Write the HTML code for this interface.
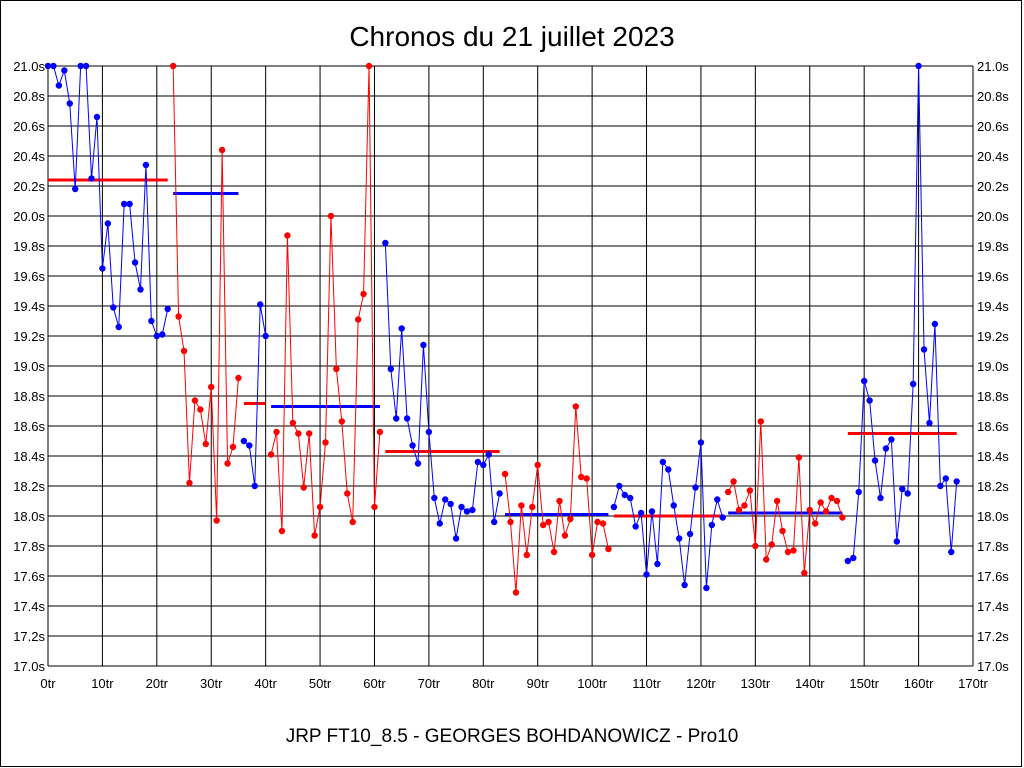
<!DOCTYPE html>
<html><head><meta charset="utf-8"><style>
body{margin:0;background:#fff;}
svg{display:block;font-family:"Liberation Sans",sans-serif;}
</style></head><body>
<svg id="chart" width="1024" height="768" viewBox="0 0 1024 768">
<rect x="0" y="0" width="1024" height="768" fill="#fff"/>
<rect x="0.5" y="0.5" width="1021" height="766" fill="none" stroke="#000" stroke-width="1"/>
<text x="512" y="46" text-anchor="middle" font-size="28">Chronos du 21 juillet 2023</text>
<text x="512" y="742" text-anchor="middle" font-size="19">JRP FT10_8.5 - GEORGES BOHDANOWICZ - Pro10</text>
<g id="grid"></g><g id="avg"></g><g id="series"></g>
</svg>
<script>
const times=[21.0,21.0,20.87,20.97,20.75,20.18,21.0,21.0,20.25,20.66,19.65,19.95,19.39,19.26,20.08,20.08,19.69,19.51,20.34,19.3,19.2,19.21,19.38,
21.0,19.33,19.1,18.22,18.77,18.71,18.48,18.86,17.97,20.44,18.35,18.46,18.92,
18.5,18.47,18.2,19.41,19.2,
18.41,18.56,17.9,19.87,18.62,18.55,18.19,18.55,17.87,18.06,18.49,20.0,18.98,18.63,18.15,17.96,19.31,19.48,21.0,18.06,18.56,
19.82,18.98,18.65,19.25,18.65,18.47,18.35,19.14,18.56,18.12,17.95,18.11,18.08,17.85,18.06,18.03,18.04,18.36,18.34,18.41,17.96,18.15,
18.28,17.96,17.49,18.07,17.74,18.06,18.34,17.94,17.96,17.76,18.1,17.87,17.98,18.73,18.26,18.25,17.74,17.96,17.95,17.78,
18.06,18.2,18.14,18.12,17.93,18.02,17.61,18.03,17.68,18.36,18.31,18.07,17.85,17.54,17.88,18.19,18.49,17.52,17.94,18.11,17.99,
18.16,18.23,18.04,18.07,18.17,17.8,18.63,17.71,17.81,18.1,17.9,17.76,17.77,18.39,17.62,18.04,17.95,18.09,18.03,18.12,18.1,17.99,
17.7,17.72,18.16,18.9,18.77,18.37,18.12,18.45,18.51,17.83,18.18,18.15,18.88,21.0,19.11,18.62,19.28,18.2,18.25,17.76,18.23];
const segStart=[0,23,36,41,62,84,104,125,147];
const segEnd=[22,35,40,61,83,103,124,146,167];
const segAvg=[20.24,20.15,18.75,18.73,18.43,18.01,18.0,18.02,18.55];
const yTicks=[17.0,17.2,17.4,17.6,17.8,18.0,18.2,18.4,18.6,18.8,19.0,19.2,19.4,19.6,19.8,20.0,20.2,20.4,20.6,20.8,21.0];
const xTicks=[0,10,20,30,40,50,60,70,80,90,100,110,120,130,140,150,160,170];
const L=48,R=973,T=66,B=666,ymin=17,ymax=21,xmax=170;
const X=v=>L+(R-L)*v/xmax, Y=v=>B-(B-T)*(v-ymin)/(ymax-ymin);
const NS="http://www.w3.org/2000/svg";
function mk(t,a,p){const e=document.createElementNS(NS,t);for(const k in a)e.setAttribute(k,a[k]);p.appendChild(e);return e;}
const g=document.getElementById('grid');
yTicks.forEach(v=>{
 const l=mk('line',{x1:L,x2:R,y1:Y(v),y2:Y(v),stroke:'#000','stroke-width':1},g);
 
 
 const t=mk('text',{x:L-3,y:Y(v)+5,'text-anchor':'end','font-size':13},g);t.textContent=v.toFixed(1)+'s';
 
 
 const t2=mk('text',{x:R+4,y:Y(v)+5,'text-anchor':'start','font-size':13},g);t2.textContent=v.toFixed(1)+'s';
 
 
});
xTicks.forEach(v=>{
 const l=mk('line',{x1:X(v),x2:X(v),y1:T,y2:B,stroke:'#000','stroke-width':1},g);
 
 
 const t=mk('text',{x:X(v),y:B+22,'text-anchor':'middle','font-size':13},g);t.textContent=v+'tr';
 
 
});
const ga=document.getElementById('avg'),gs=document.getElementById('series');
segStart.forEach((s,k)=>{
 const e=segEnd[k],col=k%2?'#ff0000':'#0000ff',acol=k%2?'#0000ff':'#ff0000';
 const a=mk('line',{x1:X(s),x2:X(e),y1:Y(segAvg[k]),y2:Y(segAvg[k]),stroke:acol,'stroke-width':3},ga);
 
 
 let pts=[];for(let i=s;i<=e;i++)pts.push(X(i)+','+Y(times[i]));
 const p=mk('polyline',{points:pts.join(' '),fill:'none',stroke:col,'stroke-width':1},gs);
 
 
 for(let i=s;i<=e;i++){
  const c=mk('circle',{cx:X(i),cy:Y(times[i]),r:3.2,fill:col},gs);
  
  
 }
});
</script>
</body></html>
